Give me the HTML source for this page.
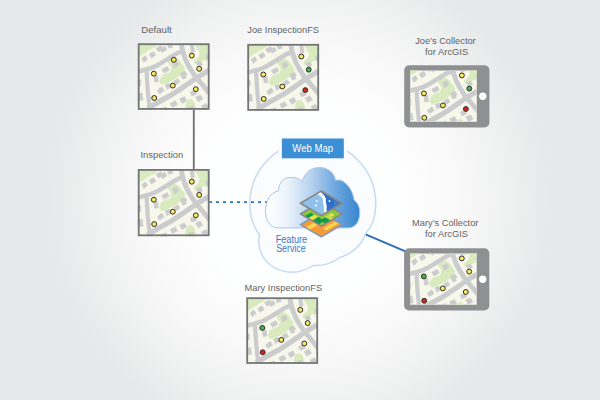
<!DOCTYPE html>
<html><head><meta charset="utf-8"><title>Feature service diagram</title>
<style>
html,body{margin:0;padding:0;background:#fff;}
body{width:600px;height:400px;overflow:hidden;}
svg{display:block;}
text{font-family:"Liberation Sans",sans-serif;}
.lbl{font-size:9.600px;fill:#636466;}
</style></head><body>
<svg width="600" height="400" viewBox="0 0 600 400">
<defs>
<radialGradient id="bg" cx="300" cy="200" r="262" gradientUnits="userSpaceOnUse">
<stop offset="0.000" stop-color="#ffffff"/>
<stop offset="0.344" stop-color="#feffff"/>
<stop offset="0.439" stop-color="#fdfdfd"/>
<stop offset="0.534" stop-color="#fafafa"/>
<stop offset="0.611" stop-color="#f8f8f8"/>
<stop offset="0.687" stop-color="#f5f5f6"/>
<stop offset="0.763" stop-color="#f1f2f2"/>
<stop offset="0.840" stop-color="#edeeee"/>
<stop offset="0.935" stop-color="#e8e9ea"/>
<stop offset="1.000" stop-color="#e6e7e8"/>
</radialGradient>
<linearGradient id="cl" x1="0" y1="0" x2="1" y2="0">
<stop offset="0" stop-color="#ffffff"/>
<stop offset="0.22" stop-color="#edf4fc"/>
<stop offset="0.5" stop-color="#b3d0ee"/>
<stop offset="0.75" stop-color="#6ba6de"/>
<stop offset="1" stop-color="#3785cf"/>
</linearGradient>

<g id="map">
<rect x="0" y="0" width="72" height="68" fill="#f8f7ec"/>
<g fill="#d9eabf">
<path d="M-3.9,-4.0 C0.2,-7.3 16.6,-4.6 20.8,-4.0 C24.9,-3.4 21.3,-1.9 20.8,-0.6 C20.2,0.7 18.8,2.5 17.4,3.7 C15.9,4.8 14.0,5.2 12.3,6.2 C10.6,7.2 8.7,8.6 7.2,9.6 C5.6,10.6 4.7,11.2 2.9,12.2 C1.1,13.1 -2.8,18.2 -3.9,15.6 C-5.0,12.9 -8.0,-0.7 -3.9,-4.0Z"/>
<path d="M30.1,16.4 C30.8,15.5 33.5,14.5 35.2,14.4 C36.9,14.2 38.8,14.6 40.3,15.6 C41.8,16.5 42.9,18.2 44.1,19.8 C45.2,21.4 47.3,23.4 47.5,24.9 C47.6,26.5 46.0,27.9 45.1,29.2 C44.2,30.4 43.2,31.5 42.0,32.6 C40.8,33.6 39.2,34.6 37.8,35.5 C36.3,36.3 35.2,36.9 33.5,37.7 C31.8,38.5 29.1,39.6 27.6,40.2 C26.0,40.8 25.1,41.5 24.2,41.1 C23.3,40.6 22.1,39.1 22.1,37.7 C22.1,36.2 23.1,33.8 24.2,32.6 C25.2,31.3 27.0,30.7 28.4,30.0 C29.8,29.3 31.8,29.4 32.7,28.3 C33.5,27.2 33.8,24.6 33.5,23.2 C33.2,21.8 31.5,20.9 31.0,19.8 C30.4,18.7 29.4,17.3 30.1,16.4Z"/>
<path d="M56.5,-4.0 C59.2,-5.6 72.8,-7.8 76.0,-4.0 C79.3,-0.2 77.0,15.4 76.0,19.0 C75.0,22.5 71.6,17.7 70.1,17.3 C68.5,16.8 68.0,16.0 66.7,16.4 C65.4,16.8 63.8,18.8 62.4,19.5 C61.0,20.2 59.2,21.0 58.2,20.7 C57.2,20.3 56.2,18.3 56.5,17.3 C56.8,16.2 58.9,15.6 59.9,14.4 C60.8,13.1 62.1,11.1 62.1,9.6 C62.1,8.1 60.8,7.6 59.9,5.4 C58.9,3.1 53.8,-2.4 56.5,-4.0Z"/>
<path d="M48.0,70.8 C46.2,68.8 48.1,61.5 48.8,58.9 C49.6,56.4 51.3,55.7 52.6,55.5 C53.8,55.4 55.5,56.7 56.5,58.1 C57.4,59.5 57.7,61.9 58.2,64.0 C58.7,66.2 61.1,69.7 59.4,70.8 C57.7,72.0 49.7,72.8 48.0,70.8Z"/>
</g>
<g fill="none" stroke="#cbcccd" stroke-linecap="butt" stroke-linejoin="round">
<path stroke-width="4.500" d="M0,28 C6,26.500 11,25.500 16,23.500 C22,21 25,18.500 30,15.500 C35,12.500 38,9.500 45,7.500"/>
<path stroke-width="4.900" d="M44,0 C44,4 45,7 46,10 C47.5,15 49,19 51.5,23 C54,27 55,29 58,33 C62,38 65,41 72,50"/>
<path stroke-width="5.200" d="M10,65 C18,60 26,55.500 33.5,51.500 C42,46.500 50,40.500 58,35 C63,31.500 67,29.500 72,26.500"/>
<path stroke-width="4.200" d="M9,27 C9.5,40 10.5,52 12.5,67"/>
</g>
<g fill="#cbcccd" stroke="#cbcccd" stroke-width="0.600" stroke-linejoin="round">
<path d="M4.3,14.7 L8.0,12.2 L10.0,15.6 L6.3,19.0Z"/>
<path d="M11.7,10.5 L16.2,7.9 L18.2,11.6 L14.0,14.4Z"/>
<path d="M18.5,4.5 L23.3,2.0 L25.0,3.7 L27.6,2.8 L29.3,6.2 L25.0,8.8 L23.3,7.1 L20.8,8.2Z"/>
<path d="M30.1,0.8 L34.4,0.4 L35.2,3.7 L31.0,4.5Z"/>
<path d="M34.9,19.0 L39.5,17.3 L41.2,21.5 L36.9,24.1Z"/>
<path d="M24.2,25.8 L29.8,22.9 L31.8,26.6 L26.4,29.5Z"/>
<path d="M16.5,32.6 L20.2,32.1 L20.8,38.2 L17.0,38.5Z"/>
<path d="M42.9,30.0 L47.1,27.5 L49.7,30.9 L48.0,32.1 L48.8,34.3 L45.4,35.5 L44.1,33.4Z"/>
<path d="M36.1,37.7 L40.3,35.1 L42.4,38.5 L38.3,41.1Z"/>
<path d="M27.6,41.1 L31.5,39.4 L33.5,43.6 L29.3,45.7Z"/>
<path d="M19.6,47.0 L24.2,43.3 L26.7,47.0 L21.9,50.4Z"/>
<path d="M52.6,0.8 L56.0,0.4 L57.0,7.9 L53.6,8.8Z"/>
<path d="M59.0,19.0 L62.8,17.3 L65.0,21.2 L60.7,23.2Z"/>
<path d="M52.6,48.7 L57.3,46.7 L59.4,50.4 L54.3,52.5Z"/>
<path d="M58.2,53.5 L62.8,51.3 L65.5,55.5 L60.7,58.1Z"/>
<path d="M42.0,55.5 L46.8,53.0 L49.2,56.9 L44.6,59.8Z"/>
<path d="M32.7,59.8 L37.8,57.2 L40.0,61.0 L34.9,63.7Z"/>
<path d="M68.4,11.6 L73.0,10.5 L73.6,14.7 L69.2,15.6Z"/>
<path d="M-0.5,36.0 L3.2,36.0 L3.2,41.9 L-0.5,41.9Z"/>
<path d="M-0.5,50.4 L4.6,49.6 L5.5,56.4 L-0.5,57.2Z"/>
<path d="M63.8,62.3 L68.4,59.8 L70.9,63.2 L66.7,66.1Z"/>
<path d="M50.5,64.0 L55.6,62.3 L57.3,67.4 L51.4,67.4Z"/>
<path d="M23.3,64.9 L28.4,63.2 L30.1,67.4 L24.2,67.4Z"/>
</g>
</g>

</defs>
<rect width="600" height="400" fill="url(#bg)"/>

<line x1="355" y1="229.900" x2="406" y2="251.700" stroke="#2e6db8" stroke-width="2"/>
<!-- outer cloud -->
<path d="M375.800,204 C375.800,216 372,227 365.300,234 C362,245 352,254 340,257.500 C334,262 324,266 313,265.500 C307,269.500 300,272.300 292,272.300 C280,272.300 268,266 262.500,256 C259.500,250 258,242 259.300,234.500 C253,226 249.800,216 249.800,204 C249.800,169.200 278,141 312.800,141 C347.600,141 375.800,169.200 375.800,204 Z" fill="#fbfcfe" stroke="#c6daf2" stroke-width="1.500"/>

<!-- connectors -->
<line x1="193.800" y1="109" x2="193.800" y2="171" stroke="#737476" stroke-width="1.900"/>
<line x1="209" y1="202.100" x2="270" y2="202.100" stroke="#2f72bb" stroke-width="1.700" stroke-dasharray="3,4"/>

<!-- inner cloud -->
<path d="M278,227.900 C270,227.900 265.500,220 265.500,211 C265.500,200 271,192 278.500,191 C278.500,184 283,177.500 290,177.500 C296,177 300,179 302.500,181.500 C304,173 311,167.500 319.500,167.500 C328,167.500 334.500,173 335.500,180.500 C338,179.500 342,180 345,183 C350,187 353,193 354,200 C358,203 360,208 359.700,213 C359.500,221 356,227.900 348,227.900 Z" fill="url(#cl)" stroke="#a6c7ea" stroke-width="1"/>

<!-- layers icon -->
<g>
<clipPath id="dm"><path d="M0,0 H1 V1 H0 Z"/></clipPath>
<g transform="matrix(20.900,-12.200,20.900,12.200,300.400,224.600)">
<g clip-path="url(#dm)">
<rect width="1" height="1" fill="#f5993a"/>
<rect x="0" y="0.240" width="0.400" height="0.190" fill="#fbd84b"/>
<rect x="0.380" y="0.700" width="0.620" height="0.160" fill="#fbd84b"/>
</g></g>
<path d="M300.400,224.600 L321.300,212.400 L342.200,224.600 L321.300,236.800 Z" fill="none" stroke="#7e97bb" stroke-width="1.500" stroke-linejoin="round"/>
<g transform="matrix(20.900,-12.200,20.900,12.200,300.400,213.900)">
<g clip-path="url(#dm)">
<rect width="1" height="1" fill="#8cc63f"/>
<rect x="0" y="0.200" width="0.300" height="0.160" fill="#129a48"/>
<rect x="0" y="0.360" width="0.300" height="0.200" fill="#e8e04a"/>
<rect x="0" y="0.560" width="0.300" height="0.300" fill="#129a48"/>
<rect x="0.200" y="0.740" width="0.260" height="0.260" fill="#129a48"/>
<rect x="0.460" y="0.700" width="0.180" height="0.300" fill="#c6dc4a"/>
<rect x="0.640" y="0.700" width="0.140" height="0.160" fill="#f2e24c"/>
</g></g>
<path d="M300.400,213.900 L321.300,201.700 L342.200,213.900 L321.300,226.100 Z" fill="none" stroke="#88898b" stroke-width="1.600" stroke-linejoin="round"/>
<clipPath id="dt"><path d="M300.400,203.200 L321.300,191 L342.200,203.200 L321.300,215.400 Z"/></clipPath>
<g clip-path="url(#dt)">
<rect x="298" y="189" width="46" height="28" fill="#8fc1ec"/>
<path d="M319,190 C323,194 326.500,197 325.500,201 C324.500,205 327,208 326,215 L345,215 L345,190 Z" fill="#2e6ec4"/>
<path d="M335,190 L345,190 L345,215 L333,215 Z" fill="#3b7fd0"/>
<path d="M316,193.300 C319.500,195.500 323.500,197.500 323,201 C322.600,204 324.600,206 324,209 C323.700,211 324.200,213 324,215.500 L326.800,214 C327,211.500 326.300,209.500 326.700,207.500 C327.200,204.500 325.300,203 325.800,200 C326.300,196.500 322.500,194 320,191.500 Z" fill="#ffffff"/>
<circle cx="316.800" cy="200.900" r="0.900" fill="#ffffff"/>
<circle cx="315.800" cy="205.600" r="1.100" fill="#ffffff"/>
<circle cx="329.500" cy="201" r="0.900" fill="#ffffff"/>
</g>
<path d="M300.400,203.200 L321.300,191 L342.200,203.200 L321.300,215.400 Z" fill="none" stroke="#88898b" stroke-width="1.700" stroke-linejoin="round"/>
</g>

<!-- Web map label -->
<rect x="278.500" y="135.500" width="68.700" height="26" fill="#fbfcfe"/>
<rect x="281.900" y="138.500" width="61.900" height="19.800" fill="#3b8fd4"/>
<text x="292.300" y="152.300" font-size="10.500" fill="#ffffff" textLength="40.800" lengthAdjust="spacingAndGlyphs">Web Map</text>

<text x="275.700" y="242.600" font-size="10" fill="#3b76c2" textLength="31.500" lengthAdjust="spacingAndGlyphs">Feature</text>
<text x="276.200" y="251.900" font-size="10" fill="#3b76c2" textLength="29.500" lengthAdjust="spacingAndGlyphs">Service</text>

<!-- labels -->
<text class="lbl" x="141.300" y="32.500" textLength="30.400" lengthAdjust="spacingAndGlyphs">Default</text>
<text class="lbl" x="247.300" y="32.700" textLength="71.700" lengthAdjust="spacingAndGlyphs">Joe InspectionFS</text>
<text class="lbl" x="140.400" y="158.300" textLength="42.800" lengthAdjust="spacingAndGlyphs">Inspection</text>
<text class="lbl" x="244.600" y="290.600" textLength="77.500" lengthAdjust="spacingAndGlyphs">Mary InspectionFS</text>
<text class="lbl" x="415.200" y="43.700" textLength="60.500" lengthAdjust="spacingAndGlyphs">Joe’s Collector</text>
<text class="lbl" x="425" y="54.600" textLength="43.200" lengthAdjust="spacingAndGlyphs">for ArcGIS</text>
<text class="lbl" x="412" y="225.900" textLength="66.400" lengthAdjust="spacingAndGlyphs">Mary’s Collector</text>
<text class="lbl" x="425" y="237.100" textLength="43" lengthAdjust="spacingAndGlyphs">for ArcGIS</text>

<g transform="translate(137.8,43.3)">
<clipPath id="ct1"><rect x="0" y="0" width="71.800" height="66.5"/></clipPath>
<g clip-path="url(#ct1)"><g transform="translate(-0.300,0.3)"><rect x="0" y="-2" width="73" height="4" fill="#f8f7ec"/><use href="#map"/><circle cx="36.3" cy="16.2" r="2.45" fill="#f8e868" stroke="#2e2d22" stroke-width="1"/><circle cx="54.3" cy="12.0" r="2.45" fill="#f8e868" stroke="#2e2d22" stroke-width="1"/><circle cx="61.7" cy="25.2" r="2.45" fill="#f8e868" stroke="#2e2d22" stroke-width="1"/><circle cx="16.3" cy="30.0" r="2.45" fill="#f8e868" stroke="#2e2d22" stroke-width="1"/><circle cx="35.3" cy="42.0" r="2.45" fill="#f8e868" stroke="#2e2d22" stroke-width="1"/><circle cx="58.3" cy="45.6" r="2.45" fill="#f8e868" stroke="#2e2d22" stroke-width="1"/><circle cx="16.7" cy="54.4" r="2.45" fill="#f8e868" stroke="#2e2d22" stroke-width="1"/></g></g>
<rect x="0.900" y="0.900" width="70" height="64.7" fill="none" stroke="#747577" stroke-width="1.800"/>
</g>
<g transform="translate(247.3,43.9)">
<clipPath id="ct2"><rect x="0" y="0" width="71.800" height="66.9"/></clipPath>
<g clip-path="url(#ct2)"><g transform="translate(-0.300,0.6)"><rect x="0" y="-2" width="73" height="4" fill="#f8f7ec"/><use href="#map"/><circle cx="54.3" cy="12.0" r="2.45" fill="#f8e868" stroke="#2e2d22" stroke-width="1"/><circle cx="61.7" cy="25.2" r="2.45" fill="#3db54a" stroke="#2e2d22" stroke-width="1"/><circle cx="16.3" cy="30.0" r="2.45" fill="#f8e868" stroke="#2e2d22" stroke-width="1"/><circle cx="35.3" cy="42.0" r="2.45" fill="#f8e868" stroke="#2e2d22" stroke-width="1"/><circle cx="58.3" cy="45.6" r="2.45" fill="#d7202a" stroke="#2e2d22" stroke-width="1"/><circle cx="16.7" cy="54.4" r="2.45" fill="#f8e868" stroke="#2e2d22" stroke-width="1"/></g></g>
<rect x="0.900" y="0.900" width="70" height="65.1" fill="none" stroke="#747577" stroke-width="1.800"/>
</g>
<g transform="translate(137.8,169.0)">
<clipPath id="ct3"><rect x="0" y="0" width="71.800" height="67.2"/></clipPath>
<g clip-path="url(#ct3)"><g transform="translate(-0.300,0.7)"><rect x="0" y="-2" width="73" height="4" fill="#f8f7ec"/><use href="#map"/><circle cx="54.3" cy="12.0" r="2.45" fill="#f8e868" stroke="#2e2d22" stroke-width="1"/><circle cx="61.7" cy="25.2" r="2.45" fill="#f8e868" stroke="#2e2d22" stroke-width="1"/><circle cx="16.3" cy="30.0" r="2.45" fill="#f8e868" stroke="#2e2d22" stroke-width="1"/><circle cx="35.3" cy="42.0" r="2.45" fill="#f8e868" stroke="#2e2d22" stroke-width="1"/><circle cx="58.3" cy="45.6" r="2.45" fill="#f8e868" stroke="#2e2d22" stroke-width="1"/><circle cx="16.7" cy="54.4" r="2.45" fill="#f8e868" stroke="#2e2d22" stroke-width="1"/></g></g>
<rect x="0.900" y="0.900" width="70" height="65.4" fill="none" stroke="#747577" stroke-width="1.800"/>
</g>
<g transform="translate(246.3,297.3)">
<clipPath id="ct4"><rect x="0" y="0" width="71.800" height="66.6"/></clipPath>
<g clip-path="url(#ct4)"><g transform="translate(-0.300,0.6)"><rect x="0" y="-2" width="73" height="4" fill="#f8f7ec"/><use href="#map"/><circle cx="54.3" cy="12.0" r="2.45" fill="#f8e868" stroke="#2e2d22" stroke-width="1"/><circle cx="61.7" cy="25.2" r="2.45" fill="#f8e868" stroke="#2e2d22" stroke-width="1"/><circle cx="16.3" cy="30.0" r="2.45" fill="#3db54a" stroke="#2e2d22" stroke-width="1"/><circle cx="35.3" cy="42.0" r="2.45" fill="#f8e868" stroke="#2e2d22" stroke-width="1"/><circle cx="58.3" cy="45.6" r="2.45" fill="#f8e868" stroke="#2e2d22" stroke-width="1"/><circle cx="16.7" cy="54.4" r="2.45" fill="#d7202a" stroke="#2e2d22" stroke-width="1"/></g></g>
<rect x="0.900" y="0.900" width="70" height="64.8" fill="none" stroke="#747577" stroke-width="1.800"/>
</g>
<g transform="translate(404,65.2)">
<rect x="0.200" y="0" width="85.200" height="62.300" rx="5" ry="5" fill="#8f9092"/>
<clipPath id="cb1"><rect x="6.200" y="5.300" width="66.600" height="51.200"/></clipPath>
<g clip-path="url(#cb1)"><g transform="translate(3.600,-1.800)"><use href="#map"/><circle cx="54.3" cy="12.0" r="2.45" fill="#f8e868" stroke="#2e2d22" stroke-width="1"/><circle cx="61.7" cy="25.2" r="2.45" fill="#3db54a" stroke="#2e2d22" stroke-width="1"/><circle cx="16.3" cy="30.0" r="2.45" fill="#f8e868" stroke="#2e2d22" stroke-width="1"/><circle cx="35.3" cy="42.0" r="2.45" fill="#f8e868" stroke="#2e2d22" stroke-width="1"/><circle cx="58.3" cy="45.6" r="2.45" fill="#d7202a" stroke="#2e2d22" stroke-width="1"/><circle cx="16.7" cy="54.4" r="2.45" fill="#f8e868" stroke="#2e2d22" stroke-width="1"/></g></g>
<circle cx="78.800" cy="31.100" r="3.700" fill="#ffffff"/>
</g>
<g transform="translate(403.9,248.2)">
<rect x="0.200" y="0" width="85.200" height="62.300" rx="5" ry="5" fill="#8f9092"/>
<clipPath id="cb2"><rect x="6.200" y="5.300" width="66.600" height="51.200"/></clipPath>
<g clip-path="url(#cb2)"><g transform="translate(3.600,-1.800)"><use href="#map"/><circle cx="54.3" cy="12.0" r="2.45" fill="#f8e868" stroke="#2e2d22" stroke-width="1"/><circle cx="61.7" cy="25.2" r="2.45" fill="#f8e868" stroke="#2e2d22" stroke-width="1"/><circle cx="16.3" cy="30.0" r="2.45" fill="#3db54a" stroke="#2e2d22" stroke-width="1"/><circle cx="35.3" cy="42.0" r="2.45" fill="#f8e868" stroke="#2e2d22" stroke-width="1"/><circle cx="58.3" cy="45.6" r="2.45" fill="#f8e868" stroke="#2e2d22" stroke-width="1"/><circle cx="16.7" cy="54.4" r="2.45" fill="#d7202a" stroke="#2e2d22" stroke-width="1"/></g></g>
<circle cx="78.800" cy="31.100" r="3.700" fill="#ffffff"/>
</g>
</svg>
</body></html>
